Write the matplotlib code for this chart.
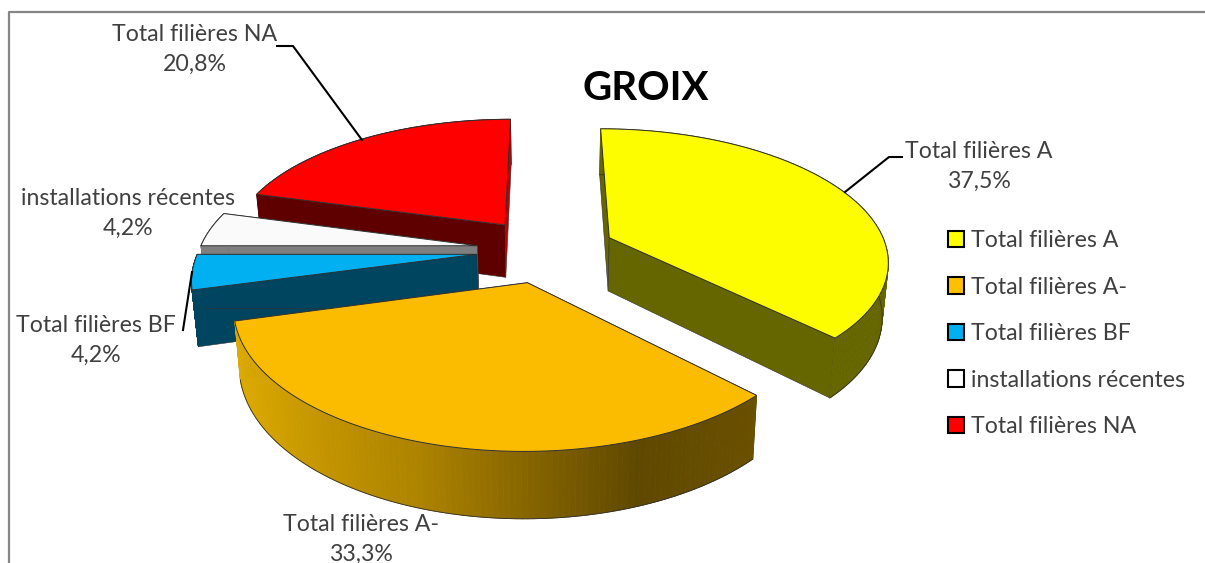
import numpy as np
import matplotlib
matplotlib.use("Agg")
import matplotlib.pyplot as plt
from matplotlib.collections import PolyCollection
from matplotlib.colors import to_rgb
from matplotlib.lines import Line2D
from matplotlib.patches import Patch, Polygon

plt.rcParams["font.family"] = ["Lato", "DejaVu Sans"]

title = "GROIX"
categories = ["Total filières A", "Total filières A-", "Total filières BF",
              "installations récentes", "Total filières NA"]
shares = [37.5, 33.3, 4.2, 4.2, 20.8]

top_colors = ["#fdfd00", "#fbbc00", "#00b0f0", "#fafafa", "#ff0000"]
legend_colors = ["#ffff00", "#ffc000", "#00b0f0", "#ffffff", "#ff0000"]
wall_colors = ["#666600", "#654c00", "#00455f", "#7f7f7f", "#5f0000"]
side_colors = ["#666600", "#654c00", "#00455f", "#7f7f7f", "#c00000"]

# the only shaded rim is the orange one: colour against pixel x
orange_rim_x = [236, 320, 420, 520, 640, 755]
orange_rim = ["#dcaa00", "#c49500", "#ad8300", "#8a6800", "#5f4800", "#6a5000"]

label_centers = [(979, 166), (361, 539), (96, 340), (128, 213), (195, 49)]
leaders = [[(845, 192), (889, 157), (902, 157)],
           [],
           [(183, 330), (192, 272)],
           [],
           [(277, 46), (293, 46), (362, 140)]]

# projection of the tilted pie, in pixels
XC, YC = 546, 250
FX, FY = 278, 130
PERSP = 0.16
EXPLODE = 0.25
DEPTH = 54
LOW_X = 0.982
TEXT = "#404040"
FONT = 16.7


def project(x, y):
    s = 1 / (1 + PERSP * y)
    return XC + FX * x * s, YC - FY * y * s, s


def lower(px, py, s):
    return XC + (px - XC) * LOW_X, py + DEPTH * s


def slice_points(start, end):
    mid = np.radians((start + end) / 2)
    ox, oy = EXPLODE * np.sin(mid), EXPLODE * np.cos(mid)
    t = np.radians(np.linspace(start, end, 120))
    x = np.concatenate([[ox], ox + np.sin(t)])
    y = np.concatenate([[oy], oy + np.cos(t)])
    return project(x, y)


def wall(ax, px, py, s, i, j, color):
    x0, y0 = lower(px[i], py[i], s[i])
    x1, y1 = lower(px[j], py[j], s[j])
    ax.add_patch(Polygon([(px[i], py[i]), (px[j], py[j]), (x1, y1), (x0, y0)],
                         facecolor=color, edgecolor="#303030", lw=0.4))


def rim_color(idx, x):
    if idx != 1:
        return to_rgb(wall_colors[idx])
    stops = np.array([to_rgb(c) for c in orange_rim])
    return [np.interp(x, orange_rim_x, stops[:, c]) for c in range(3)]


def draw_slice(ax, start, end, idx):
    px, py, s = slice_points(start, end)
    last = len(px) - 1
    # walls, outer rim, top face. the red end wall faces us so it goes over its rim
    wall(ax, px, py, s, 0, 1, wall_colors[idx])
    if idx != 4:
        wall(ax, px, py, s, 0, last, side_colors[idx])

    lx, ly = lower(px, py, s)
    quads = []
    colors = []
    for k in range(1, last):
        quads.append([(px[k], py[k]), (px[k + 1], py[k + 1]),
                      (lx[k + 1], ly[k + 1]), (lx[k], ly[k])])
        colors.append(rim_color(idx, px[k]))
    ax.add_collection(PolyCollection(quads, facecolors=colors, edgecolors=colors,
                                     linewidths=0.6, zorder=1))
    if idx < 2:
        ax.add_line(Line2D(lx[1:], ly[1:], color="#303030", lw=0.6, zorder=1))
    if idx == 4:
        wall(ax, px, py, s, 0, last, side_colors[idx])

    ax.add_patch(Polygon(np.column_stack([px, py]), facecolor=top_colors[idx],
                         edgecolor="#303030", lw=0.7))


def main():
    fig = plt.figure(figsize=(12.05, 5.63), dpi=100)
    ax = fig.add_axes([0, 0, 1, 1])
    ax.set_xlim(0, 1205)
    ax.set_ylim(563, 0)
    ax.axis("off")

    # chart frame, cut by the picture on the right and at the bottom
    ax.plot([9, 9, 1210], [570, 12, 12], color="#868686", lw=1.6)

    ends = np.cumsum(shares) * 3.6
    starts = ends - np.array(shares) * 3.6
    for idx in [4, 3, 2, 1, 0]:
        draw_slice(ax, starts[idx], ends[idx], idx)

    for line in leaders:
        if line:
            ax.plot(*zip(*line), color="black", lw=1.5)

    for name, share, (cx, cy) in zip(categories, shares, label_centers):
        text = name + "\n" + f"{share:.1f}%".replace(".", ",")
        ax.text(cx, cy, text, ha="center", va="center", color=TEXT,
                fontsize=FONT, linespacing=1.52)

    ax.text(646, 88, title, ha="center", va="center", fontsize=29,
            fontweight="bold", color="black")

    handles = [Patch(facecolor=c, edgecolor="black", lw=1.5) for c in legend_colors]
    ax.legend(handles, categories, loc="upper left", bbox_to_anchor=(948, 230),
              bbox_transform=ax.transData, frameon=False, fontsize=FONT,
              labelcolor=TEXT, handlelength=0.7, handleheight=0.7,
              handletextpad=0.3, labelspacing=1.1, borderpad=0, borderaxespad=0)

    fig.savefig("out.png", dpi=100)


if __name__ == "__main__":
    main()
